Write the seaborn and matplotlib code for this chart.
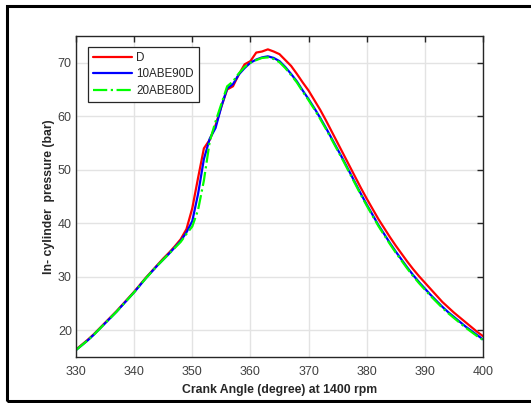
import pandas as pd
import matplotlib.pyplot as plt
import matplotlib.patches as patches
import seaborn as sns

# crank angle (deg) and in-cylinder pressure (bar)
angle = list(range(330, 401))

p_d = [16.4, 17.3, 18.2, 19.2, 20.3, 21.4, 22.5, 23.6, 24.8, 26.0,
       27.2, 28.5, 29.8, 31.0, 32.2, 33.4, 34.5, 35.7, 37.0, 38.9,
       42.8, 48.5, 54.0, 55.6, 58.3, 61.8, 65.0, 65.6, 67.8, 69.7,
       70.3, 71.9, 72.1, 72.5, 72.1, 71.6, 70.5, 69.4, 67.9, 66.3,
       64.8, 63.0, 61.2, 59.2, 57.1, 55.0, 52.9, 50.8, 48.7, 46.6,
       44.6, 42.7, 40.8, 39.1, 37.4, 35.8, 34.3, 32.8, 31.4, 30.1,
       28.9, 27.7, 26.5, 25.3, 24.3, 23.3, 22.4, 21.5, 20.6, 19.7,
       18.9]

p_10abe = [16.3, 17.2, 18.1, 19.1, 20.2, 21.3, 22.4, 23.5, 24.7, 25.9,
           27.1, 28.4, 29.7, 30.9, 32.1, 33.2, 34.3, 35.5, 36.7, 38.3,
           40.4, 45.5, 52.0, 55.8, 57.8, 61.8, 65.2, 66.0, 67.8, 69.0,
           70.0, 70.6, 71.0, 71.2, 70.9, 70.3, 69.2, 67.9, 66.5, 64.8,
           63.2, 61.5, 59.7, 57.8, 55.8, 53.8, 51.8, 49.7, 47.6, 45.5,
           43.5, 41.6, 39.7, 38.0, 36.3, 34.7, 33.2, 31.7, 30.3, 29.0,
           27.8, 26.6, 25.5, 24.4, 23.4, 22.5, 21.6, 20.7, 19.9, 19.1,
           18.3]

p_20abe = [16.3, 17.2, 18.1, 19.1, 20.2, 21.3, 22.4, 23.5, 24.7, 25.9,
           27.1, 28.4, 29.7, 30.9, 32.1, 33.2, 34.3, 35.4, 36.5, 38.0,
           39.4, 42.5, 48.0, 55.3, 59.0, 62.3, 65.6, 66.5, 68.0, 69.2,
           70.0, 70.5, 70.9, 71.0, 70.7, 70.1, 69.0, 67.7, 66.3, 64.6,
           63.0, 61.3, 59.5, 57.6, 55.6, 53.6, 51.6, 49.5, 47.4, 45.3,
           43.3, 41.4, 39.5, 37.8, 36.1, 34.5, 33.0, 31.5, 30.1, 28.8,
           27.6, 26.4, 25.3, 24.2, 23.2, 22.3, 21.4, 20.5, 19.7, 18.9,
           18.2]

series = ["D", "10ABE90D", "20ABE80D"]
colors = ["#ff0000", "#0000ff", "#00ff00"]
styles = ["-", "-", "-."]

df = pd.DataFrame({"angle": angle * 3,
                   "pressure": p_d + p_10abe + p_20abe,
                   "fuel": [s for s in series for _ in angle]})

sns.set_style("white")
plt.rcParams["font.family"] = ["Liberation Sans", "DejaVu Sans"]

fig = plt.figure(figsize=(5.31, 4.03), dpi=100)
ax = fig.add_axes([0.1431, 0.1141, 0.7665, 0.7966])

for name, c, ls in zip(series, colors, styles):
    sns.lineplot(data=df[df["fuel"] == name], x="angle", y="pressure",
                 color=c, linestyle=ls, linewidth=1.6, label=name, ax=ax)

ax.set_xlim(330, 400)
ax.set_ylim(15, 75)
ax.set_xticks(range(330, 401, 10))
ax.set_yticks(range(20, 71, 10))
ax.grid(True, color="#e3e3e3", linewidth=1)
ax.set_axisbelow(True)
for s in ax.spines.values():
    s.set_color("#262626")
    s.set_linewidth(1)
ax.tick_params(direction="in", length=4, width=1, color="#262626",
               labelsize=9, labelcolor="#404040", top=True, right=True)
ax.tick_params(axis="x", pad=6.5)
ax.tick_params(axis="y", pad=3)

ax.set_xlabel("Crank Angle (degree) at 1400 rpm", fontsize=8.8,
              fontweight="bold", color="#262626", labelpad=4)
ax.set_ylabel("In- cylinder  pressure (bar)", fontsize=8.8,
              fontweight="bold", color="#262626", labelpad=2)

leg = ax.legend(loc="upper left", bbox_to_anchor=(0.03, 0.967),
                fontsize=8.4, fancybox=False, framealpha=1,
                handlelength=3.3, borderpad=0.45, labelspacing=0.4,
                handletextpad=0.35, borderaxespad=0)
leg.get_frame().set_edgecolor("#262626")
leg.get_frame().set_linewidth(0.9)

# outer frame around the figure
fig.patches.append(patches.Rectangle((0.0132, 0.005), 1.1, 0.98,
                                     transform=fig.transFigure, fill=False,
                                     edgecolor="black", linewidth=2.2))

fig.savefig("out.png", dpi=100)
